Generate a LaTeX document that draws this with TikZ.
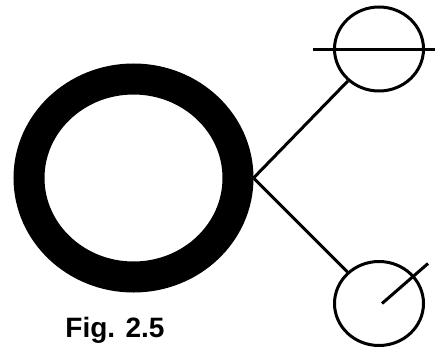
\documentclass[tikz,border=0pt]{standalone}
\usepackage{fontspec}
\setmainfont{Liberation Sans}
\usepackage{tikz}
\usetikzlibrary{shapes.geometric, positioning, calc}

\begin{document}
\begin{tikzpicture}[x=1pt, y=-1pt, line width=3pt]
    % Styles
    \tikzstyle{ring} = [ellipse, draw, line width=31pt, minimum width=209pt, minimum height=198pt, inner sep=0pt]
    \tikzstyle{bubble} = [ellipse, draw, minimum width=89pt, minimum height=84pt, inner sep=0pt]
    \tikzstyle{line} = [draw, line width=3pt]
    \tikzstyle{caption} = [font=\fontsize{28}{30}\selectfont\bfseries, anchor=base, inner sep=0pt]

    \useasboundingbox (0,0) rectangle (435,348);

    % Nodes
    \node [ring] (core) at (133.5,178) {};
    \node [bubble] (upper) at (379,49) {};
    \node [bubble] (lower) at (379,303.5) {};
    \node [caption] (fig) at (115,337) {Fig. 2.5};

    \coordinate (barL) at ($(upper.center)+(-66,0)$);
    \coordinate (barR) at ($(upper.center)+(56,0)$);
    \coordinate (tickA) at ($(lower.center)+(3,0)$);
    \coordinate (tickB) at ($(lower.center)+(49,-40)$);

    % Edges
    \draw [line] (core.east) -- (upper);
    \draw [line] (core.east) -- (lower);
    \draw [line] (barL) -- (barR);
    \draw [line] (tickA) -- (tickB);
\end{tikzpicture}
\end{document}
